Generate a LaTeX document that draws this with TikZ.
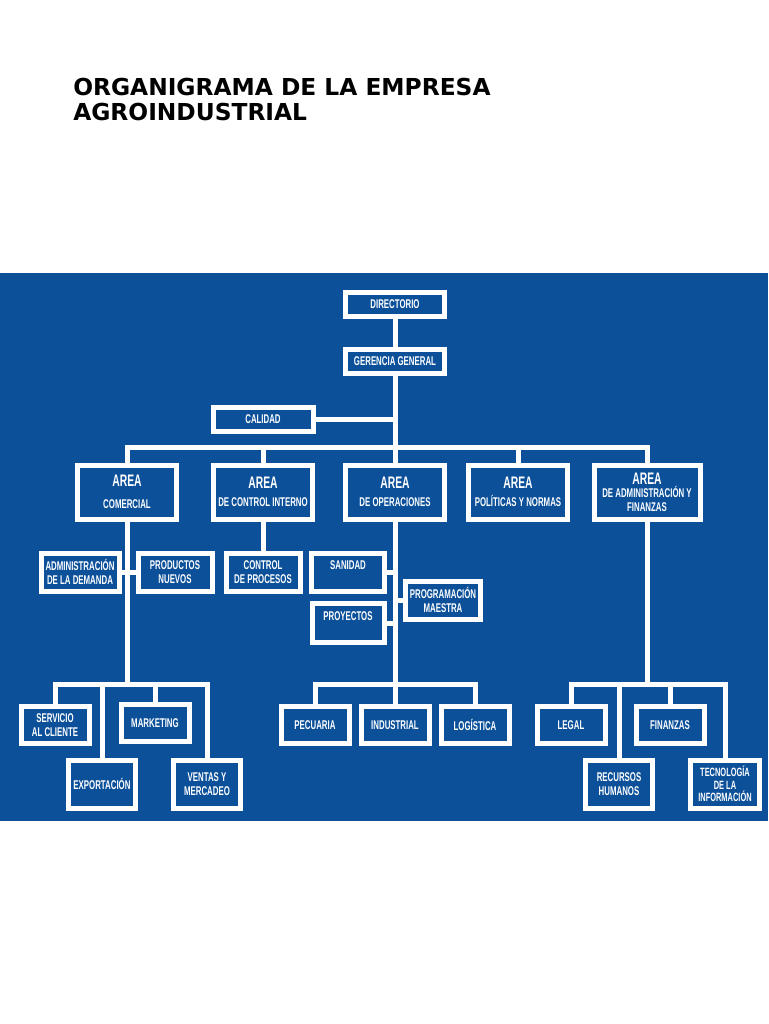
\documentclass[tikz,border=0pt]{standalone}
\usepackage{fontspec}
\newfontfamily\titlefont{DejaVu Sans}
\newfontfamily\boxfont[FakeStretch=0.62]{Liberation Sans}

\begin{document}
\begin{tikzpicture}[x=0.75pt, y=-0.75pt]
  \definecolor{orgblue}{HTML}{0B5099}
  \tikzstyle{unit}=[draw=white, line width=3.75pt, fill=orgblue, text=white,
    align=center, inner sep=0pt, font=\boxfont\bfseries\fontsize{9.5}{10.5}\selectfont]
  \tikzstyle{topbox}=[unit, minimum width=74.25pt, minimum height=18pt]
  \tikzstyle{areabox}=[unit, minimum width=74.25pt, minimum height=40.5pt]
  \tikzstyle{midbox}=[unit, minimum width=55.5pt, minimum height=28.5pt]
  \tikzstyle{lowbox}=[unit, minimum width=51pt, minimum height=27.75pt]
  \tikzstyle{tallbox}=[unit, minimum width=50.25pt, minimum height=36pt]
  \tikzstyle{link}=[draw=white, line width=3.75pt]
  \newcommand{\areaword}{{\fontsize{12.5}{12.5}\selectfont AREA}}

  \useasboundingbox (0,0) rectangle (768,1024);
  \fill[white] (0,0) rectangle (768,1024);
  \fill[orgblue] (0,273) rectangle (768,821);

  \node[anchor=base west, inner sep=0pt, align=left,
    font=\titlefont\bfseries\fontsize{17.5}{18.75}\selectfont]
    (title) at (73,120) {ORGANIGRAMA DE LA EMPRESA\\AGROINDUSTRIAL};

  % direccion
  \node[topbox] (dir) at (395,304) {DIRECTORIO};
  \node[topbox] (ger) at (395,361) {GERENCIA GENERAL};
  \node[topbox, minimum width=75pt] (cal) at (263,419) {CALIDAD};

  % areas
  \node[areabox] (com) at (127,492) {\areaword\\[6pt]COMERCIAL};
  \node[areabox] (ctrl) at (263,492) {\areaword\\[3pt]DE CONTROL INTERNO};
  \node[areabox] (ope) at (395,492) {\areaword\\[3pt]DE OPERACIONES};
  \node[areabox] (pol) at (518,492) {\areaword\\[3pt]POLÍTICAS Y NORMAS};
  \node[areabox, minimum width=79.5pt] (adm) at (647,492)
    {\areaword\\[-1pt]DE ADMINISTRACIÓN Y\\FINANZAS};

  % segundo nivel
  \node[midbox, minimum width=58.5pt] (dem) at (80,572) {ADMINISTRACIÓN\\DE LA DEMANDA};
  \node[midbox] (prod) at (175,572) {PRODUCTOS\\NUEVOS};
  \node[midbox] (proc) at (263,572) {CONTROL\\DE PROCESOS};
  \node[midbox, minimum width=54.75pt] (san) at (348,572) {SANIDAD\\\mbox{}};
  \node[midbox, minimum width=54pt, minimum height=29.25pt] (proy) at (348,623)
    {PROYECTOS\\\mbox{}};
  \node[midbox, minimum width=56.25pt] (prog) at (443,600) {PROGRAMACIÓN\\MAESTRA};

  % tercer nivel
  \node[lowbox] (serv) at (55,725) {SERVICIO\\AL CLIENTE};
  \node[lowbox] (mkt) at (155,723) {MARKETING};
  \node[tallbox] (exp) at (102,784) {EXPORTACIÓN};
  \node[tallbox] (vent) at (207,784) {VENTAS Y\\MERCADEO};
  \node[lowbox] (pec) at (315,725) {PECUARIA};
  \node[lowbox] (ind) at (395,725) {INDUSTRIAL};
  \node[lowbox] (log) at (475,725) {LOGÍSTICA};
  \node[lowbox] (leg) at (571,725) {LEGAL};
  \node[lowbox] (fin) at (670,725) {FINANZAS};
  \node[tallbox] (rrhh) at (619,784) {RECURSOS\\HUMANOS};
  \node[tallbox, minimum width=51.75pt,
    font=\boxfont\bfseries\fontsize{9}{9.5}\selectfont] (tec) at (725,784)
    {TECNOLOGÍA\\DE LA\\INFORMACIÓN};

  \coordinate (bar) at (395,447);
  \coordinate (lowbar) at (395,684);

  % conectores
  \draw[link] (dir) -- (ger);
  \draw[link] (ger) -- (ope);
  \draw[link] (cal.east) -- (cal.east -| ger.south);
  \draw[link] (com.north) -- (com.north |- bar) -- (adm.north |- bar) -- (adm.north);
  \draw[link] (ctrl.north) -- (ctrl.north |- bar);
  \draw[link] (pol.north) -- (pol.north |- bar);

  \draw[link] (ctrl) -- (proc);
  \draw[link] (com.south) -- (com.south |- lowbar);
  \draw[link] (dem) -- (prod);
  \draw[link] (serv.north) -- (serv.north |- lowbar) -- (vent.north |- lowbar) -- (vent.north);
  \draw[link] (exp.north) -- (exp.north |- lowbar);
  \draw[link] (mkt.north) -- (mkt.north |- lowbar);

  \draw[link] (ope) -- (ind);
  \draw[link] (san.east) -- (san.east -| ope.south);
  \draw[link] (proy.east) -- (proy.east -| ope.south);
  \draw[link] (prog.west) -- (prog.west -| ope.south);
  \draw[link] (pec.north) -- (pec.north |- lowbar) -- (log.north |- lowbar) -- (log.north);

  \draw[link] (adm.south) -- (adm.south |- lowbar);
  \draw[link] (leg.north) -- (leg.north |- lowbar) -- (tec.north |- lowbar) -- (tec.north);
  \draw[link] (rrhh.north) -- (rrhh.north |- lowbar);
  \draw[link] (fin.north) -- (fin.north |- lowbar);
\end{tikzpicture}
\end{document}
